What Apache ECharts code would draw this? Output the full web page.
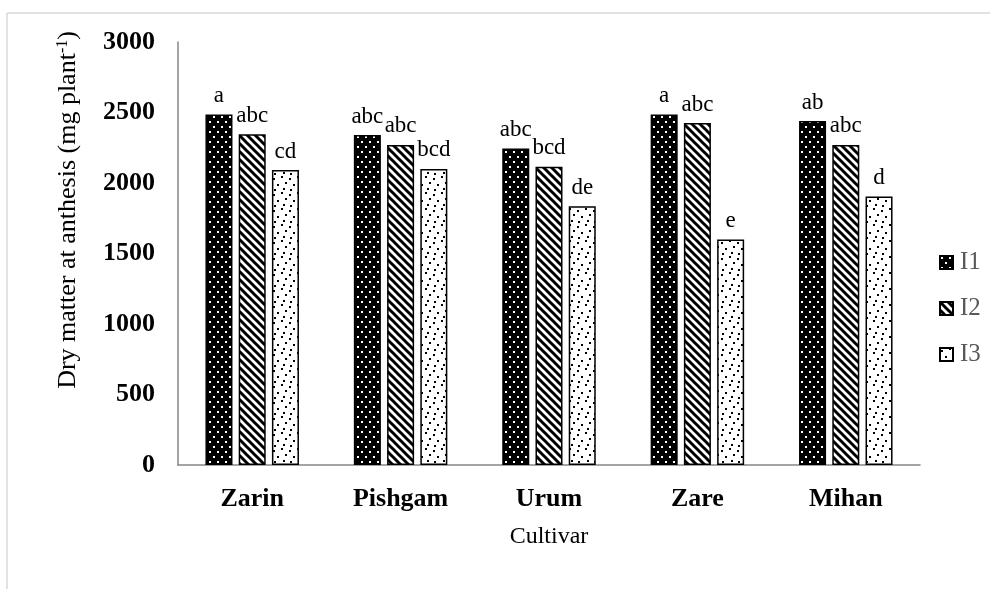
<!DOCTYPE html>
<html>
<head>
<meta charset="utf-8">
<script src="https://cdn.jsdelivr.net/npm/echarts@6/dist/echarts.min.js"></script>
<style>
html,body{margin:0;padding:0;background:#fff;}
#chart{width:990px;height:589px;}
</style>
</head>
<body>
<div id="chart"></div>
<script>
const categories = ['Zarin', 'Pishgam', 'Urum', 'Zare', 'Mihan'];
const seriesNames = ['I1', 'I2', 'I3'];
const valuesI1 = [2485, 2340, 2245, 2485, 2440];
const valuesI2 = [2345, 2270, 2115, 2425, 2270];
const valuesI3 = [2092, 2100, 1835, 1600, 1905];
const lettersI1 = ['a', 'abc', 'abc', 'a', 'ab'];
const lettersI2 = ['abc', 'abc', 'bcd', 'abc', 'abc'];
const lettersI3 = ['cd', 'bcd', 'de', 'e', 'd'];
const yTicks = [0, 500, 1000, 1500, 2000, 2500, 3000];

function makeTile(w, h, draw) {
  const c = document.createElement('canvas');
  c.width = w; c.height = h;
  const ctx = c.getContext('2d');
  draw(ctx, w, h);
  return c;
}
const patI1 = makeTile(8, 10, (ctx, w, h) => {
  ctx.fillStyle = '#000'; ctx.fillRect(0, 0, w, h);
  ctx.fillStyle = '#fff';
  ctx.fillRect(1, 1, 2, 2);
  ctx.fillRect(5, 6, 2, 2);
});
const patI2 = makeTile(8, 8, (ctx, w, h) => {
  ctx.fillStyle = '#fff'; ctx.fillRect(0, 0, w, h);
  ctx.strokeStyle = '#000'; ctx.lineWidth = 3;
  for (let k = -1; k <= 1; k++) {
    ctx.beginPath();
    ctx.moveTo(k * w - 2, -2);
    ctx.lineTo(k * w + w + 2, h + 2);
    ctx.stroke();
  }
});
const patI3 = makeTile(16, 16, (ctx, w, h) => {
  ctx.fillStyle = '#fff'; ctx.fillRect(0, 0, w, h);
  ctx.fillStyle = '#000';
  ctx.fillRect(1, 2, 2, 2);
  ctx.fillRect(9, 0, 2, 2);
  ctx.fillRect(5, 8, 2, 2);
  ctx.fillRect(13, 6, 2, 2);
  ctx.fillRect(11, 12, 2, 2);
  ctx.fillRect(2, 13, 2, 2);
});

const font = 'Liberation Serif';
const chart = echarts.init(document.getElementById('chart'), null, {renderer: 'canvas'});

function barSeries(name, data, letters, pat) {
  return {
    name: name,
    type: 'bar',
    data: data,
    barGap: '23%',
    barCategoryGap: '37%',
    itemStyle: {
      color: {image: pat, repeat: 'repeat'},
      borderColor: '#000',
      borderWidth: 1.5
    },
    label: {
      show: true,
      position: 'top',
      distance: 7,
      color: '#000',
      fontFamily: font,
      fontSize: 23,
      formatter: p => letters[p.dataIndex]
    }
  };
}

chart.setOption({
  backgroundColor: '#fff',
  animation: false,
  grid: {left: 178, right: 70, top: 42, bottom: 124},
  legend: {
    orient: 'vertical',
    left: 934,
    top: 245,
    itemWidth: 13,
    itemHeight: 13,
    itemGap: 21,
    icon: 'rect',
    data: seriesNames,
    textStyle: {fontFamily: font, fontSize: 25, color: '#595959', padding: [0, 0, 0, 2]}
  },
  xAxis: {
    type: 'category',
    data: categories,
    axisTick: {show: false},
    axisLine: {lineStyle: {color: '#868686', width: 1.5}},
    axisLabel: {fontFamily: font, fontSize: 26, fontWeight: 'bold', color: '#000', margin: 21},
    name: 'Cultivar',
    nameLocation: 'middle',
    nameGap: 60,
    nameTextStyle: {fontFamily: font, fontSize: 24, color: '#000'}
  },
  yAxis: {
    type: 'value',
    min: yTicks[0],
    max: yTicks[yTicks.length - 1],
    interval: yTicks[1] - yTicks[0],
    splitLine: {show: false},
    axisTick: {show: false},
    axisLine: {show: true, lineStyle: {color: '#868686', width: 1.5}},
    axisLabel: {fontFamily: font, fontSize: 26, fontWeight: 'bold', color: '#000', margin: 23, formatter: v => String(v)}
  },
  graphic: [
    {type: 'line', shape: {x1: 7, y1: 13, x2: 990, y2: 13}, style: {stroke: '#d9d9d9', lineWidth: 1.5}, silent: true},
    {type: 'line', shape: {x1: 7, y1: 13, x2: 7, y2: 589}, style: {stroke: '#d9d9d9', lineWidth: 1.5}, silent: true},
    {
      type: 'text',
      x: 68, y: 210,
      rotation: Math.PI / 2,
      style: {
        text: 'Dry matter at anthesis (mg plant{sup|-1})',
        fontFamily: font,
        fontSize: 26,
        fill: '#000',
        align: 'center',
        verticalAlign: 'middle',
        rich: {
          sup: {fontFamily: font, fontSize: 16, verticalAlign: 'top', lineHeight: 26, padding: [0, 0, 9, 0], fill: '#000'}
        }
      }
    }
  ],
  series: [
    barSeries(seriesNames[0], valuesI1, lettersI1, patI1),
    barSeries(seriesNames[1], valuesI2, lettersI2, patI2),
    barSeries(seriesNames[2], valuesI3, lettersI3, patI3)
  ]
});
</script>
</body>
</html>
